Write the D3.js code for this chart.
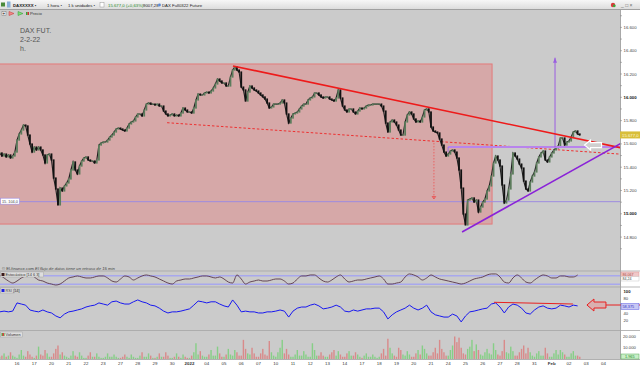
<!DOCTYPE html>
<html><head><meta charset="utf-8">
<script src="https://cdn.jsdelivr.net/npm/d3@7"></script>
<style>body{margin:0;background:#fff}svg{display:block}text{font-family:"Liberation Sans",Arial,sans-serif}</style>
</head><body><svg id="c" width="640" height="366"></svg>
<script>
// ---------- DATA ----------
const dayLabels = ["16","17","20","21","22","23","27","28","29","30","2022","04","05","06","07","10","11","12","13","14","17","18","19","20","21","24","25","26","27","28","31","Feb","02","03","04"];
const boldDayLabels = ["2022","Feb"];
const barsPerDay = 8;      // intraday closes per session
const firstBarDay = -1;    // first bar belongs to the session before "16"
const closes = [
15522,15496,15513,15488,15505,15479,15496,15530,15633,15685,
15719,15762,15754,15676,15599,15530,15573,15548,15573,15548,
15505,15436,15505,15513,15462,15307,15213,15076,15221,15196,
15239,15264,15299,15376,15445,15376,15342,15410,15453,15479,
15488,15462,15453,15453,15436,15462,15590,15608,15616,15616,
15633,15659,15676,15702,15728,15736,15728,15719,15711,15736,
15771,15788,15797,15831,15857,15857,15840,15891,15942,15951,
15942,15942,15934,15942,15925,15925,15882,15857,15840,15848,
15857,15840,15848,15840,15865,15908,15891,15874,15874,15865,
15908,15977,16028,16020,16020,16037,16045,16037,16054,16080,
16114,16157,16140,16123,16123,16097,16097,16174,16234,16260,
16234,16217,16088,16063,15968,16045,16097,16080,16063,16054,
16037,16020,16003,15985,15951,15908,15917,15942,15942,15942,
15951,15977,15951,15857,15779,15822,15857,15865,15874,15900,
15925,15942,15942,15977,15994,16003,16037,16037,16020,16003,
15994,16003,16003,15985,15977,15968,15994,16063,15994,15925,
15891,15874,15900,15900,15874,15857,15882,15908,15900,15908,
15925,15934,15934,15942,15942,15942,15942,15925,15882,15779,
15702,15788,15805,15788,15762,15719,15676,15676,15788,15848,
15874,15857,15814,15788,15797,15788,15831,15891,15900,15874,
15745,15711,15702,15694,15642,15590,15530,15496,15513,15539,
15548,15530,15479,15376,15221,14998,14904,15118,15127,15136,
15101,15118,15015,15058,15101,15127,15196,15239,15324,15436,
15496,15462,15410,15247,15093,15118,15213,15342,15522,15496,
15470,15427,15393,15281,15213,15196,15273,15324,15359,15436,
15488,15522,15539,15462,15445,15488,15522,15548,15565,15582,
15651,15651,15590,15616,15625,15659,15702,15711,15685,15677];
// volume per bar, thousands of contracts
const volumesK = [
2,3,5,2,3,6,3,2, 1,4,8,3,2,7,4,2, 1,3,11,4,3,8,5,2, 2,5,9,12,4,6,3,2,
1,3,7,3,2,6,3,1, 1,3,6,2,2,5,2,1, 1,2,5,2,2,4,2,1, 1,2,4,2,1,4,2,1,
1,3,6,2,2,5,3,1, 1,2,5,2,2,6,3,1, 1,2,5,2,1,4,2,1, 1,3,6,14,4,7,3,2,
2,4,8,3,3,11,5,2, 2,4,9,4,3,8,6,3, 3,17,9,5,4,10,5,2, 2,5,9,4,3,16,6,3,
2,6,10,17,5,9,4,2, 2,4,8,3,3,7,4,2, 2,14,8,3,3,6,3,2, 2,4,6,8,3,7,4,2,
2,5,7,3,3,6,4,2, 1,3,5,2,2,4,2,1, 2,5,9,3,18,10,5,3, 2,10,8,4,3,7,4,2,
2,5,8,4,12,9,5,3, 3,6,10,5,17,9,6,3, 3,8,12,20,15,19,10,5, 4,9,11,17,7,13,8,4,
3,6,9,5,4,14,8,4, 3,7,17,6,5,11,7,3, 3,6,9,12,5,10,6,3, 2,5,7,3,3,10,5,2,
2,5,8,4,8,6,4,2, 2,5,7,3,3,2];
const oscPerDay = 4;
const rsi = [44,46,44,46,68,65,62,49,46,44,49,44,41,33,28,38,44,46,49,52,
57,60,62,68,65,62,71,73,68,65,65,71,76,71,68,62,60,54,46,41,
44,44,46,49,52,62,73,71,68,71,71,65,60,57,76,62,44,46,44,44,
41,41,44,44,46,49,46,30,46,54,57,57,62,65,60,52,54,57,62,57,
46,44,49,46,49,52,52,54,54,44,25,36,44,49,54,62,54,49,54,62,
44,36,33,30,30,38,33,17,33,44,46,49,52,54,65,68,57,41,57,65,
62,54,41,38,49,57,60,54,52,54,62,60,57,62,60];
const stoch = [85,64,43,29,43,64,78,85,71,50,43,29,22,15,22,43,64,71,78,71,
64,64,71,78,78,64,43,36,57,78,71,50,64,78,85,78,71,57,43,29,
22,43,50,57,57,64,71,78,78,71,64,71,57,36,29,85,57,22,36,43,
50,43,43,50,57,57,43,22,29,57,78,78,85,85,64,43,36,50,71,85,
57,36,43,50,50,57,64,71,78,57,22,22,29,36,71,92,85,71,50,64,
85,71,57,50,43,36,29,22,29,43,57,64,71,85,92,92,71,36,29,64,
85,64,36,29,50,71,85,78,64,64,78,78,71,71,85];
const priceTicks = [16600,16400,16200,16000,15800,15600,15400,15200,15000,14800];
const rsiTicks = [100,80,40,20];
const stochLevels = [80,20];
const volTicks = [20000,10000];
const lastPrice = 15677.0;
const lastRsi = 58.375;
const lastVolume = 1965;
const stochK = 86.067, stochD = 84.240;
const supportLevel = 15104.0;
// drawings, as [session, price]
const zone = {from:-1.2, to:27.54, top:16286, bottom:14912};
const resistanceLine = [[12.52,16269],[35.2,15560]];
const dashedLine = [[8.70,15782],[35.2,15510]];
const supportDiag = [[25.80,14844],[35.2,15620]];
const neckline = [[24.99,15573],[35.2,15573]];
const target = [[31.19,15573],[31.19,16340]];
const projection = [[24.17,15608],[24.17,15127]];
const leftArrowAt = [32.9,15590];
const rsiTrend = [[27.65,69.7],[32.23,65.1]];
const rsiArrowAt = [33.04,62.4];

// ---------- SCALES ----------
const svg = d3.select("#c");
const AX = 620;
const loc = d3.formatLocale({decimal:",", thousands:".", grouping:[3], currency:["","€"]});
const fInt = loc.format(",d"), f1 = loc.format(",.1f"), f3 = loc.format(",.3f");
const x = d3.scaleLinear().domain([0,34]).range([17,603.5]);
const y = d3.scaleLinear().domain([14800,16600]).range([237.1,27.4]);
const yR = d3.scaleLinear().domain([0,100]).range([328.25,291]);
const yS = d3.scaleLinear().domain([0,100]).range([287.2,272.8]);
const yV = d3.scaleLinear().domain([0,20000]).range([359,336.5]);
const barDay = i => firstBarDay + i/barsPerDay;
const oscDay = j => firstBarDay + j/oscPerDay;

// ---------- BACKGROUND ----------
const defs = svg.append("defs");
const gr = defs.append("linearGradient").attr("id","tb").attr("x1",0).attr("y1",0).attr("x2",0).attr("y2",1);
gr.append("stop").attr("offset",0).attr("stop-color","#f7f7f7");
gr.append("stop").attr("offset",1).attr("stop-color","#dadada");
defs.append("clipPath").attr("id","cm").append("rect").attr("x",0).attr("y",10).attr("width",AX).attr("height",261);
defs.append("clipPath").attr("id","cl").append("rect").attr("x",0).attr("y",271).attr("width",AX).attr("height",88);

svg.append("rect").attr("width",640).attr("height",366).attr("fill","#cbcbcb");
svg.append("rect").attr("x",AX).attr("y",10).attr("width",20).attr("height",349).attr("fill","#fff");
svg.append("line").attr("x1",AX+0.5).attr("x2",AX+0.5).attr("y1",10).attr("y2",359).attr("stroke","#a8a8a8");
svg.append("rect").attr("x",0).attr("y",359).attr("width",640).attr("height",7).attr("fill","#fff");
svg.append("line").attr("x1",0).attr("x2",640).attr("y1",359.5).attr("y2",359.5).attr("stroke","#b0b0b0");

// toolbar
svg.append("rect").attr("width",640).attr("height",10).attr("fill","url(#tb)");
svg.append("line").attr("x1",0).attr("x2",640).attr("y1",9.5).attr("y2",9.5).attr("stroke","#a0a0a0");
const tb = svg.append("g").attr("font-size",4.3).attr("fill","#222");
tb.append("rect").attr("x",1).attr("y",2.5).attr("width",4).attr("height",4).attr("fill","#4a8a3a");
tb.append("rect").attr("x",7).attr("y",1.5).attr("width",3.5).attr("height",6).attr("fill","#8ab0d8");
tb.append("text").attr("x",13).attr("y",6.5).attr("font-weight","bold").text("DAXXXXX  •");
tb.append("text").attr("x",47).attr("y",6.5).text("1 hora  •");
tb.append("text").attr("x",68).attr("y",6.5).text("1 k unidades  •");
tb.append("rect").attr("x",100).attr("y",2.5).attr("width",4).attr("height",4.5).attr("fill","#fff").attr("stroke","#999").attr("stroke-width",0.5);
tb.append("text").attr("x",108).attr("y",6.5).attr("fill","#2a8a2a").text("15.677,0 (+0,63%)");
tb.append("text").attr("x",143).attr("y",6.5).text("9007,28");
tb.append("circle").attr("cx",159.5).attr("cy",5).attr("r",1.4).attr("fill","#5a8ad8");
tb.append("text").attr("x",162).attr("y",6.5).text("DAX Full0322 Future");
// top-right window buttons
svg.append("circle").attr("cx",613).attr("cy",5).attr("r",2.2).attr("fill","#d83a3a");
svg.append("circle").attr("cx",614.3).attr("cy",5.8).attr("r",1.4).attr("fill","#3aaa3a");
svg.append("text").attr("x",621).attr("y",7).attr("font-size",5).attr("fill","#666").text("_ □ ×");
// second row icons
const tb2 = svg.append("g");
tb2.append("rect").attr("x",2).attr("y",11.5).attr("width",4).attr("height",4).attr("fill","#f4f4f4").attr("stroke","#777").attr("stroke-width",0.5);
tb2.append("text").attr("x",2.6).attr("y",15.2).attr("font-size",4.5).text("+");
tb2.append("path").attr("d","M9,11.5 L14,13.5 L9,15.5 Z").attr("fill","#e88").attr("stroke","#c33").attr("stroke-width",0.5);
tb2.append("path").attr("d","M18,11.5 L23,13.5 L18,15.5 Z").attr("fill","#7d7").attr("stroke","#393").attr("stroke-width",0.5);
tb2.append("rect").attr("x",26).attr("y",12).attr("width",1.5).attr("height",3).attr("fill","#3a3");
tb2.append("rect").attr("x",27.5).attr("y",12).attr("width",1.5).attr("height",3).attr("fill","#c33");
tb2.append("text").attr("x",30).attr("y",15).attr("font-size",4.2).attr("fill","#333").text("Precio");

// ---------- MAIN PANEL ----------
const gm = svg.append("g").attr("clip-path","url(#cm)");
gm.append("rect").attr("x",x(zone.from)).attr("y",y(zone.top))
  .attr("width",x(zone.to)-x(zone.from)).attr("height",y(zone.bottom)-y(zone.top))
  .attr("fill","#d6a8a8").attr("stroke","#e37a7a").attr("stroke-width",1);
gm.append("line").attr("x1",0).attr("x2",AX).attr("y1",y(supportLevel)).attr("y2",y(supportLevel))
  .attr("stroke","#9d8be0").attr("stroke-width",1);

const ln = d3.line().x(d=>x(d[0])).y(d=>y(d[1]));
// dashed lower line
gm.append("path").attr("d",ln(dashedLine)).attr("fill","none").attr("stroke","#ee3030").attr("stroke-width",1).attr("stroke-dasharray","2.5,2");
// projection dotted
gm.append("path").attr("d",ln(projection)).attr("fill","none").attr("stroke","#ee5050").attr("stroke-width",0.8).attr("stroke-dasharray","1.5,1.5");
const pb = [x(projection[1][0]), y(projection[1][1])];
gm.append("path").attr("d",`M${pb[0]-1.8},${pb[1]-2.5} L${pb[0]+1.8},${pb[1]-2.5} L${pb[0]},${pb[1]} Z`).attr("fill","none").attr("stroke","#ee4040").attr("stroke-width",0.7);

// price series
const bars = closes.map((c,i)=>({t:barDay(i), o: i? closes[i-1]: c, c}));
gm.append("path").attr("d", d3.line().x(d=>x(d.t)).y(d=>y(d.c))(bars))
  .attr("fill","none").attr("stroke","#222").attr("stroke-width",1.15);
gm.selectAll("rect.bar").data(bars).join("rect").attr("class","bar")
  .attr("x",d=>x(d.t)-0.9).attr("width",1.8)
  .attr("y",d=>y(Math.max(d.o,d.c))-0.6)
  .attr("height",d=>Math.abs(y(d.o)-y(d.c))+1.2)
  .attr("fill",d=>d.c>=d.o?"#5c7c5c":"#111");

// neckline and target
gm.append("path").attr("d",ln(neckline)).attr("fill","none").attr("stroke","#b884ec").attr("stroke-width",2);
gm.append("line").attr("x1",x(neckline[0][0])).attr("x2",x(neckline[0][0])).attr("y1",y(neckline[0][1])).attr("y2",y(neckline[0][1])+5).attr("stroke","#a070e0").attr("stroke-width",1);
gm.append("path").attr("d",ln(target)).attr("fill","none").attr("stroke","#9a5ee0").attr("stroke-width",1);
const tp = [x(target[1][0]), y(target[1][1])];
gm.append("path").attr("d",`M${tp[0]},${tp[1]} L${tp[0]-2},${tp[1]+5} L${tp[0]+2},${tp[1]+5} Z`).attr("fill","#9a5ee0");
// resistance
gm.append("path").attr("d",ln(resistanceLine)).attr("fill","none").attr("stroke","#ee1a1a").attr("stroke-width",1.6);
// rising support
gm.append("path").attr("d",ln(supportDiag)).attr("fill","none").attr("stroke","#8a22d8").attr("stroke-width",1.6);
// white hollow arrow
const la = [x(leftArrowAt[0]), y(leftArrowAt[1])];
gm.append("path").attr("d",`M${la[0]},${la[1]} L${la[0]+6},${la[1]-5} L${la[0]+6},${la[1]-2.5} L${la[0]+17},${la[1]-2.5} L${la[0]+17},${la[1]+2.5} L${la[0]+6},${la[1]+2.5} L${la[0]+6},${la[1]+5} Z`)
  .attr("fill","#cfcfcf").attr("stroke","#fff").attr("stroke-width",1.2);

// support label box
const sl = y(supportLevel);
svg.append("rect").attr("x",0.5).attr("y",sl-3.5).attr("width",19).attr("height",6).attr("fill","#fff").attr("stroke","#9d8be0").attr("stroke-width",0.6);
svg.append("text").attr("x",2).attr("y",sl+1.3).attr("font-size",3.8).attr("fill","#444").text(f1(supportLevel).replace(/^(\d+)\./,"$1. "));

// chart title
const tt = svg.append("g").attr("font-size",7).attr("fill","#555");
tt.append("text").attr("x",20).attr("y",33).text("DAX FUT.");
tt.append("text").attr("x",20).attr("y",42).text("2-2-22");
tt.append("text").attr("x",20).attr("y",51).text("h.");
svg.append("text").attr("x",2).attr("y",269.5).attr("font-size",4.2).attr("fill","#444")
  .text("© El-finance.com  ").append("tspan").attr("font-style","italic").text("El flujo de datos tiene un retraso de 15 min");

// price axis
const ax = svg.append("g");
d3.range(14700,16800,100).forEach(v=>{
  const yy=y(v); if(yy<11||yy>268) return;
  ax.append("line").attr("x1",AX).attr("x2",AX+2).attr("y1",yy).attr("y2",yy).attr("stroke","#888").attr("stroke-width",0.6);
});
priceTicks.forEach(v=>{
  ax.append("text").attr("x",AX+3.5).attr("y",y(v)+1.5).attr("font-size",4.3)
    .attr("font-weight", v%1000===0?"bold":"normal").attr("fill", v%1000===0?"#111":"#444").text(fInt(v));
});
ax.append("rect").attr("x",AX).attr("y",y(lastPrice)-3.5).attr("width",20).attr("height",7).attr("fill","#d8be3a");
ax.append("text").attr("x",AX+2).attr("y",y(lastPrice)+1.6).attr("font-size",4.3).attr("fill","#fff8d8").text(f1(lastPrice));

// ---------- LOWER PANELS ----------
[271,287,330.5].forEach(v=>svg.append("line").attr("x1",0).attr("x2",640).attr("y1",v).attr("y2",v).attr("stroke","#a4a4a4").attr("stroke-width",0.8));
const gl = svg.append("g").attr("clip-path","url(#cl)");
// stochastic
stochLevels.forEach(v=>gl.append("line").attr("x1",0).attr("x2",AX).attr("y1",yS(v)).attr("y2",yS(v)).attr("stroke","#a8a8ee").attr("stroke-width",1.6));
gl.append("path").attr("d",d3.line().curve(d3.curveMonotoneX).x((d,j)=>x(oscDay(j))).y(d=>yS(d))(stoch))
  .attr("fill","none").attr("stroke","#5a3848").attr("stroke-width",0.9);
// RSI
gl.append("path").attr("d",d3.line().x((d,j)=>x(oscDay(j))).y(d=>yR(d))(rsi))
  .attr("fill","none").attr("stroke","#1818f0").attr("stroke-width",1);
gl.append("path").attr("d",d3.line().x(d=>x(d[0])).y(d=>yR(d[1]))(rsiTrend)).attr("fill","none").attr("stroke","#e82020").attr("stroke-width",1);
const ra = [x(rsiArrowAt[0]), yR(rsiArrowAt[1])];
svg.append("line").attr("x1",ra[0]+19).attr("x2",640).attr("y1",ra[1]).attr("y2",ra[1]).attr("stroke","#e82020").attr("stroke-width",1);
svg.append("path").attr("d",`M${ra[0]},${ra[1]} L${ra[0]+7},${ra[1]-6} L${ra[0]+7},${ra[1]-3} L${ra[0]+19},${ra[1]-3} L${ra[0]+19},${ra[1]+3} L${ra[0]+7},${ra[1]+3} L${ra[0]+7},${ra[1]+6} Z`)
  .attr("fill","#d9b0b0").attr("stroke","#e82020").attr("stroke-width",1);
// volume
gl.selectAll("rect.vol").data(volumesK).join("rect").attr("class","vol")
  .attr("x",(d,i)=>x(barDay(i))-0.7).attr("width",1.4)
  .attr("y",d=>yV(d*1000)).attr("height",d=>yV(0)-yV(d*1000))
  .attr("fill",(d,i)=> (i===0||closes[i]>=closes[i-1])?"#86cf86":"#d98a8a");

// panel labels
function panelLabel(x0,y0,w,col,txt){
  svg.append("rect").attr("x",x0).attr("y",y0).attr("width",w).attr("height",5).attr("fill","#dedede").attr("stroke","#999").attr("stroke-width",0.4);
  svg.append("rect").attr("x",x0+1).attr("y",y0+1).attr("width",3).attr("height",3).attr("fill",col);
  svg.append("text").attr("x",x0+5).attr("y",y0+4).attr("font-size",3.9).attr("fill","#333").text(txt);
}
panelLabel(0.5,272,43,"#3a1a1a","Estocástico [14 6 3]");
panelLabel(0.5,288,14,"#2020e0","RSI [14]");
panelLabel(0.5,332,22,"#3aa83a","Volumen");
svg.append("rect").attr("x",2.5).attr("y",333).attr("width",1.5).attr("height",3).attr("fill","#d44");

// lower axes
const la2 = svg.append("g").attr("font-size",4.2).attr("fill","#444");
la2.append("rect").attr("x",AX+1).attr("y",272).attr("width",18).attr("height",4.5).attr("fill","#f0c8c8").attr("stroke","#d88").attr("stroke-width",0.4);
la2.append("text").attr("x",AX+2.5).attr("y",275.6).attr("font-size",3.6).attr("fill","#a44").text(f3(stochK));
la2.append("rect").attr("x",AX+1).attr("y",276.5).attr("width",18).attr("height",4.5).attr("fill","#fff").attr("stroke","#bbb").attr("stroke-width",0.4);
la2.append("text").attr("x",AX+2.5).attr("y",280.1).attr("font-size",3.6).text(f3(stochD).replace(/0$/,""));
rsiTicks.forEach(v=>la2.append("text").attr("x",AX+3.5).attr("y",yR(v)+1.5).attr("font-weight",v===100?"bold":"normal").attr("fill",v===100?"#111":"#444").text(v));
la2.append("rect").attr("x",AX+1).attr("y",yR(lastRsi)-2.8).attr("width",18).attr("height",5.6).attr("fill","#c8c8f4").attr("stroke","#5050e0").attr("stroke-width",0.5);
la2.append("text").attr("x",AX+2.5).attr("y",yR(lastRsi)+1.4).attr("font-size",3.8).attr("fill","#3030c0").text(f3(lastRsi));
volTicks.forEach(v=>la2.append("text").attr("x",AX+3).attr("y",yV(v)+1.5).text(fInt(v)));
la2.append("rect").attr("x",AX+1).attr("y",354).attr("width",18).attr("height",5).attr("fill","#c8eec8").attr("stroke","#5a5").attr("stroke-width",0.5);
la2.append("text").attr("x",AX+5).attr("y",357.8).attr("font-size",3.8).attr("fill","#282").text(fInt(lastVolume));

// time axis
const ta = svg.append("g").attr("font-size",4.4).attr("text-anchor","middle");
dayLabels.forEach((d,k)=>{
  ta.append("text").attr("x",x(k)).attr("y",365).attr("fill","#333")
    .attr("font-weight", boldDayLabels.includes(d)?"bold":"normal").text(d);
});
</script></body></html>
